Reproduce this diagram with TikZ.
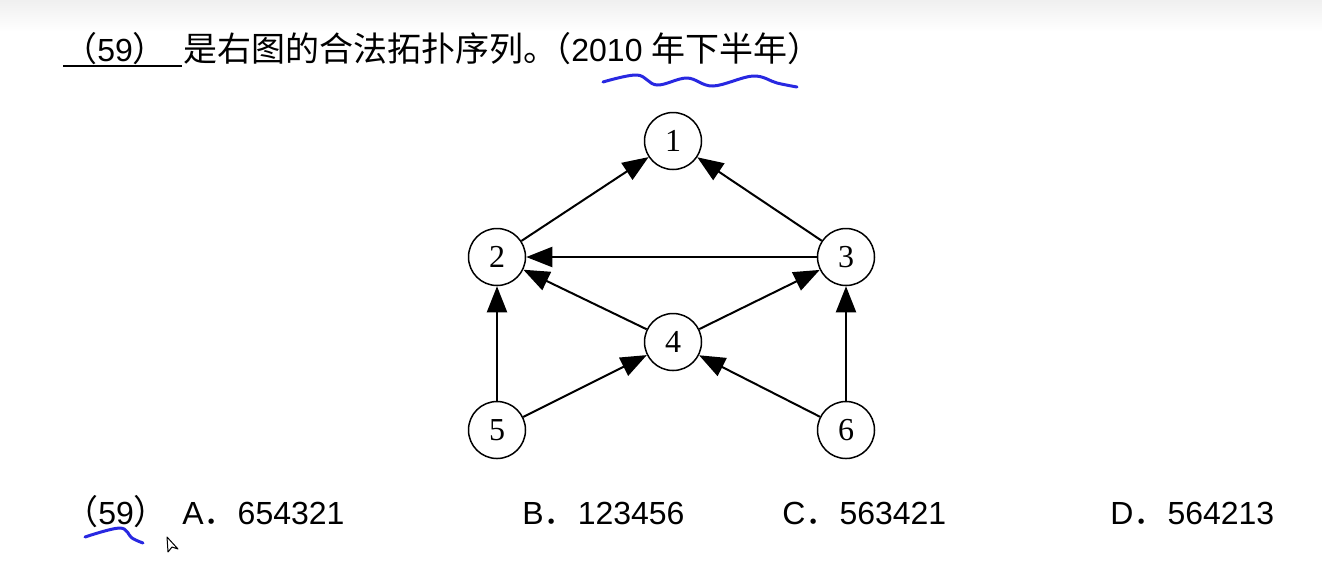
\documentclass[tikz,border=0pt]{standalone}
\usepackage{fontspec}
\setmainfont{Liberation Sans}
\newfontfamily\cjk{Noto Sans CJK SC}
\newfontfamily\numfont{Liberation Serif}
\newcommand\zh[1]{{\cjk\fontsize{17}{20}\selectfont #1}}
\usetikzlibrary{arrows.meta}
\definecolor{penblue}{RGB}{40,40,225}
\tikzset{
  vertex/.style={circle,draw=black,line width=0.75pt,fill=white,minimum size=28.5pt,inner sep=0pt,font=\numfont\fontsize{16}{18}\selectfont},
  edge/.style={draw=black,line width=1pt,-{Triangle[length=13pt,width=10pt]}},
  txt/.style={anchor=base west,inner sep=0pt,font=\fontsize{16}{19}\selectfont},
  ink/.style={draw=penblue,line width=1.5pt,line cap=round,line join=round}
}
\begin{document}
\begin{tikzpicture}[x=0.5pt,y=-0.5pt]
\useasboundingbox (0,0) rectangle (1322,564);
\fill[white] (0,0) rectangle (1322,564);
\shade[top color=black!6,bottom color=white] (0,0) rectangle (1322,32);
% question line
\node[txt] (q59) at (63,61) {\zh{（}59\zh{）}};
\draw[line width=1.2pt] (63,66) -- (182,66);
\node[txt] (qtext) at (183,61) {\zh{是右图的合法拓扑序列。}};
\node[txt] (qyear) at (537,61) {\zh{（}2010 \zh{年下半年）}};
% graph
\node[vertex] (n1) at (673,141) {1};
\node[vertex] (n2) at (497,257) {2};
\node[vertex] (n3) at (846,257) {3};
\node[vertex] (n4) at (673,342) {4};
\node[vertex] (n5) at (497,430) {5};
\node[vertex] (n6) at (846,430) {6};
\draw[edge] (n2) -- (n1);
\draw[edge] (n3) -- (n1);
\draw[edge] (n3) -- (n2);
\draw[edge] (n4) -- (n2);
\draw[edge] (n4) -- (n3);
\draw[edge] (n5) -- (n2);
\draw[edge] (n5) -- (n4);
\draw[edge] (n6) -- (n4);
\draw[edge] (n6) -- (n3);
% answers
\node[txt] (a59) at (64,524) {\zh{（}59\zh{）}};
\node[txt] (optA) at (182,524) {A\zh{．}654321};
\node[txt] (optB) at (522,524) {B\zh{．}123456};
\node[txt] (optC) at (782,524) {C\zh{．}563421};
\node[txt] (optD) at (1110,524) {D\zh{．}564213};
% handwriting
\draw[ink] plot[smooth,tension=0.6] coordinates {(603,82) (637,75) (657,85) (687,78) (713,86) (753,76) (777,83) (797,87)};
\draw[ink] plot[smooth,tension=0.6] coordinates {(85,537) (120,528) (132,538) (143,543)};
% cursor
\draw[black,line width=0.5pt,fill=white,line join=round] (167,537) -- (168,552) -- (172,547) -- (178,549) -- cycle;
\end{tikzpicture}
\end{document}
